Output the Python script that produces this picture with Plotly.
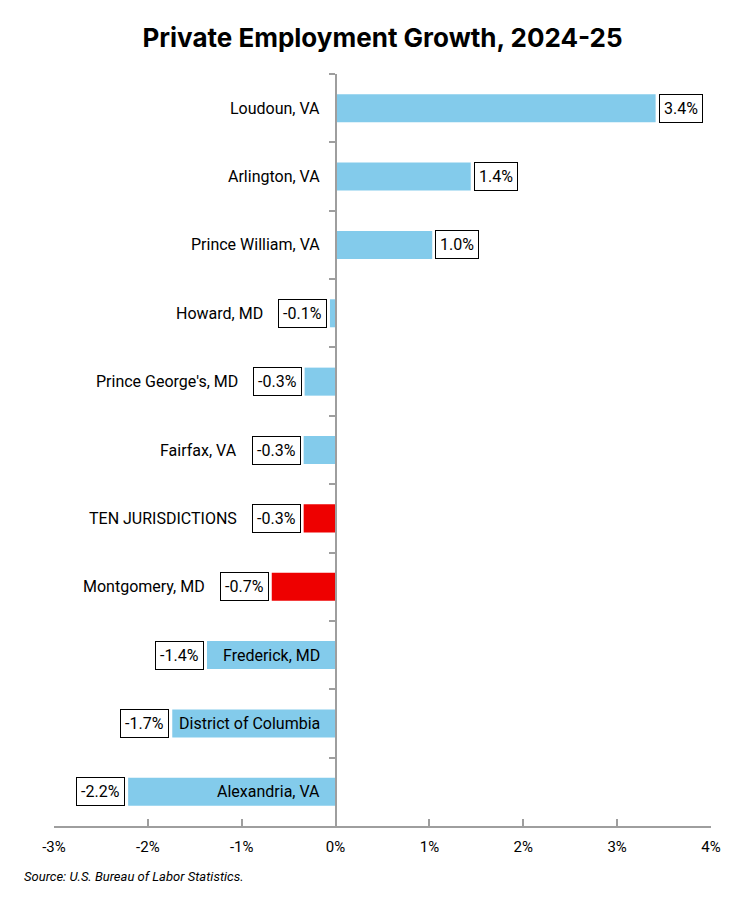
import plotly.graph_objects as go

# Data (top to bottom)
areas = ["Loudoun, VA", "Arlington, VA", "Prince William, VA", "Howard, MD",
         "Prince George's, MD", "Fairfax, VA", "TEN JURISDICTIONS",
         "Montgomery, MD", "Frederick, MD", "District of Columbia", "Alexandria, VA"]
growth = [3.41, 1.44, 1.03, -0.06, -0.33, -0.34, -0.34, -0.68, -1.37, -1.74, -2.21]
highlight = ["TEN JURISDICTIONS", "Montgomery, MD"]
x_ticks = [-3, -2, -1, 0, 1, 2, 3, 4]

BLUE = "#83CBEB"
RED = "#EE0000"
FONT = "Roboto, Arial"

colors = [RED if a in highlight else BLUE for a in areas]

fig = go.Figure()
fig.add_trace(go.Bar(
    y=areas,
    x=growth,
    orientation="h",
    width=0.41,
    marker=dict(color=colors, line=dict(width=0)),
    hoverinfo="skip",
))

annotations = []
for a, v in zip(areas, growth):
    lbl = f"{v:.1f}%"
    # boxed value label at the bar end
    annotations.append(dict(
        x=v, y=a, xref="x", yref="y", text=lbl, showarrow=False,
        xanchor="left" if v >= 0 else "right",
        xshift=3 if v >= 0 else -3,
        font=dict(family=FONT, size=16, color="#000000"),
        bordercolor="#000000", borderwidth=1, borderpad=4, bgcolor="#FFFFFF",
    ))
    # category label: next to the axis, unless the bar would cover it
    if v >= 0 or v < -1.0:
        cx, shift = 0, -14
    else:
        cx, shift = v, -65
    annotations.append(dict(
        x=cx, y=a, xref="x", yref="y", text=a, showarrow=False,
        xanchor="right", xshift=shift,
        font=dict(family=FONT, size=16, color="#000000"),
    ))

plot_l, plot_r, plot_t, plot_b = 54, 30, 74, 75
ph = 901 - plot_t - plot_b
pw = 741 - plot_l - plot_r
annotations.append(dict(
    x=(22 - plot_l) / pw, y=(901 - plot_b - 876) / ph, xref="paper", yref="paper",
    text="<i>Source: U.S. Bureau of Labor Statistics.</i>",
    showarrow=False, xanchor="left", yanchor="middle",
    font=dict(family=FONT, size=13, color="#000000"),
))

fig.update_layout(
    width=741, height=901,
    margin=dict(l=plot_l, r=plot_r, t=plot_t, b=plot_b),
    paper_bgcolor="#FFFFFF", plot_bgcolor="#FFFFFF",
    showlegend=False,
    title=dict(text="<b>Private Employment Growth, 2024-25</b>", x=0.5, xref="paper",
               y=0.958, yanchor="middle",
               font=dict(family="Inter, Roboto, Arial", size=26, color="#000000")),
    xaxis=dict(
        range=[-3, 4], tickvals=x_ticks, ticktext=[f"{t}%" for t in x_ticks],
        showgrid=False, zeroline=False, showline=True, linecolor="#9E9E9E", linewidth=1.5,
        ticks="inside", ticklen=7, tickcolor="#9E9E9E", tickwidth=1.5,
        ticklabelstandoff=6,
        tickfont=dict(family=FONT, size=15, color="#000000"), fixedrange=True,
    ),
    yaxis=dict(
        categoryorder="array", categoryarray=areas, autorange="reversed",
        anchor="free", position=3 / 7, showticklabels=False,
        showgrid=False, zeroline=False, showline=True, linecolor="#9E9E9E", linewidth=1.5,
        ticks="outside", tickson="boundaries", ticklen=6, tickcolor="#9E9E9E", tickwidth=1.5,
        fixedrange=True,
    ),
    annotations=annotations,
)

fig.write_html("out.html", config={"displayModeBar": False},
               post_script="document.body.style.margin='0';")
